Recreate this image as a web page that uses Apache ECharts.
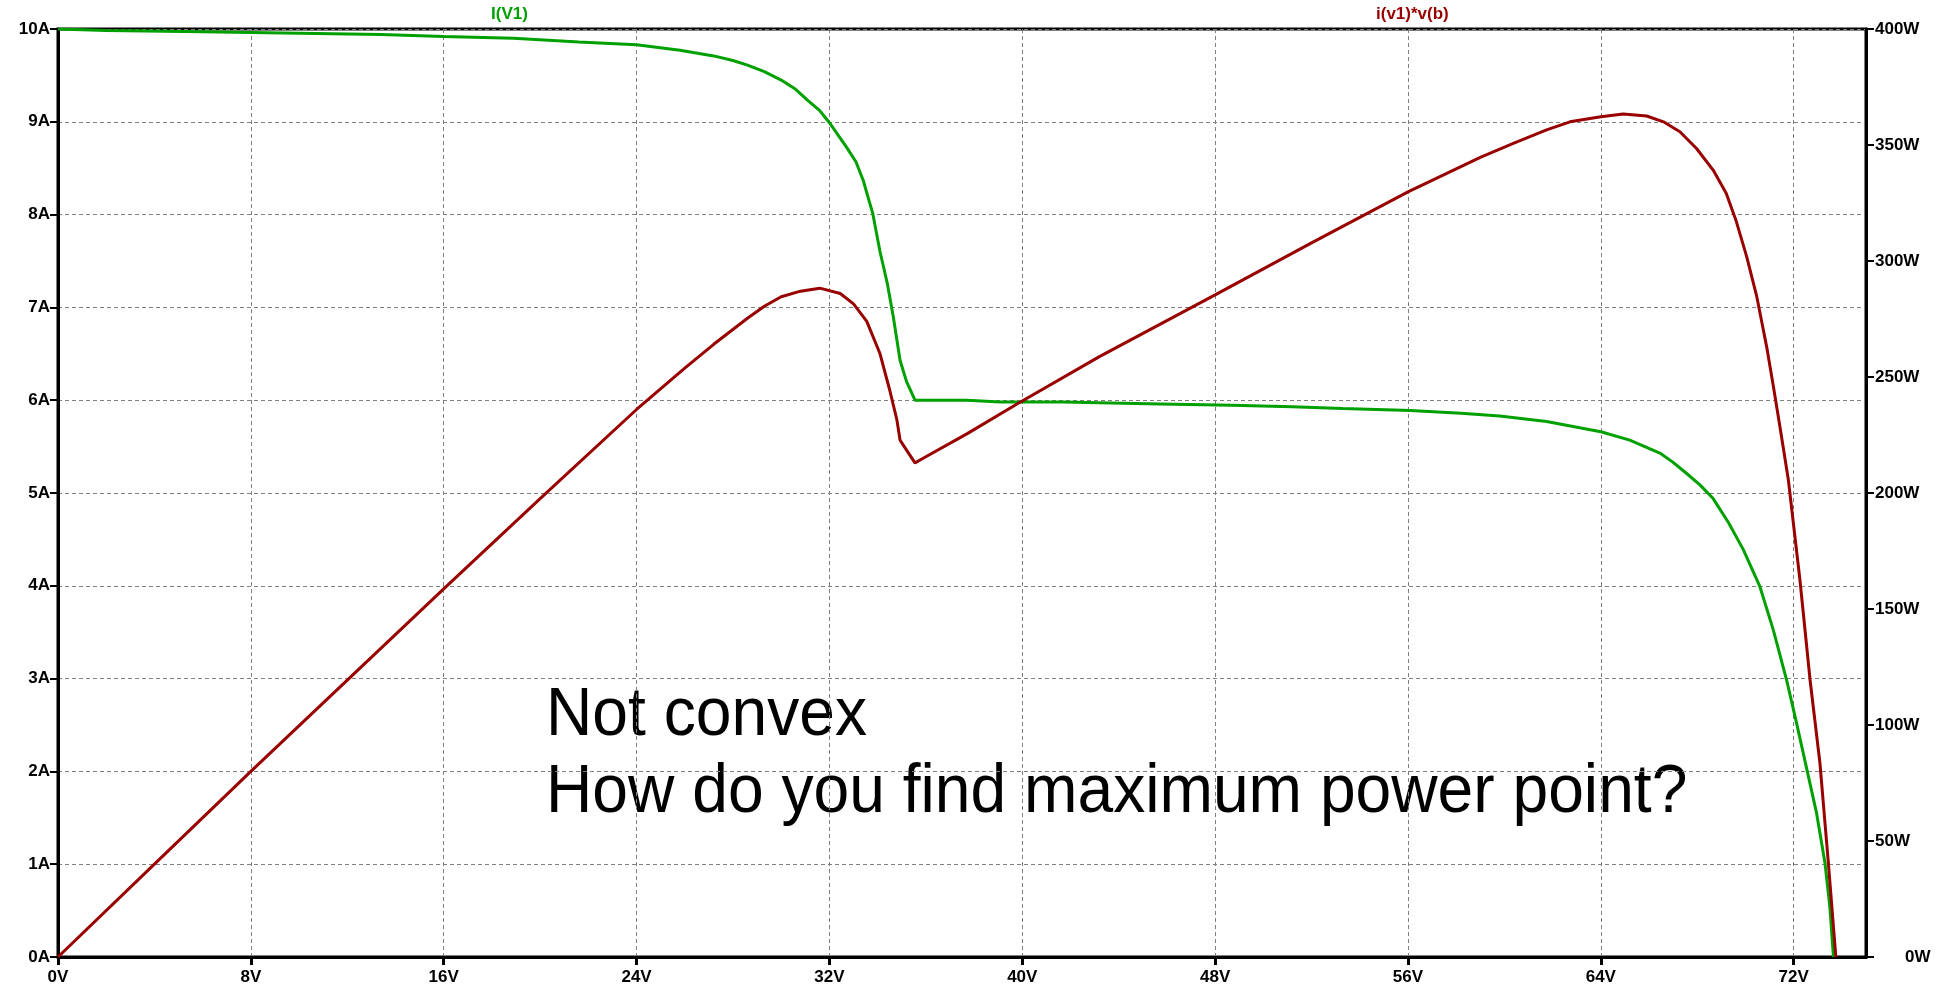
<!DOCTYPE html>
<html>
<head>
<meta charset="utf-8">
<title>PV curve</title>
<script src="https://cdn.jsdelivr.net/npm/echarts@6/dist/echarts.min.js"></script>
<style>
  html, body { margin: 0; padding: 0; background: #fff; }
  #chart { width: 1947px; height: 987px; }
</style>
</head>
<body>
<div id="chart"></div>
<script>
  // I(V1) vs sweep voltage (left axis, amps)
  const ivVolts = [0, 2, 6, 10, 13.4, 16, 18.9, 21.6, 24, 25.8, 27.2, 28.0, 28.6, 29.3, 30.0, 30.6, 31.1, 31.6, 32.0, 32.7, 33.1, 33.4, 33.8, 34.1, 34.4, 34.65, 34.93, 35.2, 35.55, 37.7, 39.1, 41.7, 45.7, 48.7, 51.2, 53.3, 56.1, 58.2, 59.8, 61.75, 64.0, 65.2, 66.45, 67.0, 67.56, 68.1, 68.66, 69.3, 69.91, 70.6, 71.16, 71.71, 72.12, 72.53, 72.95, 73.3, 73.5, 73.65];
  const ivAmps = [10.0, 9.985, 9.97, 9.955, 9.94, 9.92, 9.90, 9.86, 9.83, 9.77, 9.71, 9.66, 9.61, 9.54, 9.45, 9.35, 9.23, 9.12, 8.99, 8.73, 8.57, 8.37, 8.01, 7.60, 7.26, 6.90, 6.43, 6.20, 6.00, 6.00, 5.98, 5.98, 5.96, 5.945, 5.93, 5.91, 5.89, 5.86, 5.83, 5.77, 5.66, 5.57, 5.43, 5.33, 5.21, 5.09, 4.94, 4.68, 4.39, 3.99, 3.52, 2.98, 2.52, 2.04, 1.55, 1.01, 0.54, 0.0];

  // i(v1)*v(b) vs sweep voltage (right axis, watts)
  const pvVolts = [0, 4, 8, 16, 20, 24, 26, 27.2, 28.6, 29.3, 30.0, 30.8, 31.6, 32.45, 33.0, 33.55, 34.1, 34.5, 34.8, 34.93, 35.2, 35.55, 36.0, 37.7, 39.8, 43.2, 48, 52, 56, 59.0, 60.37, 61.75, 62.72, 64.0, 64.93, 65.9, 66.6, 67.28, 67.97, 68.66, 69.2, 69.6, 70.05, 70.47, 70.88, 71.16, 71.43, 71.78, 72.26, 72.68, 73.09, 73.44, 73.75];
  const pvWatts = [0, 40, 80, 158.7, 197.6, 236, 253.8, 264.1, 275.3, 280.5, 284.6, 287, 288.3, 286, 281.5, 274, 260, 244.4, 231.5, 222.8, 218.5, 213, 215.6, 225.5, 238.5, 258.8, 285.4, 307.8, 329.8, 344.7, 350.7, 356.5, 360, 362.2, 363.4, 362.5, 360, 355.7, 348.5, 339.2, 329.2, 317.7, 301.9, 284.6, 263, 245.8, 228.6, 205.6, 162.5, 119.4, 83.5, 40.4, 0];

  const traceNames = ["I(V1)", "i(v1)*v(b)"];
  const noteLines = ["Not convex", "How do you find maximum power point?"];

  const GREEN = "#00a000";
  const RED = "#990000";
  const labelFont = { fontFamily: "Liberation Sans", fontSize: 17, fontWeight: "bold", color: "#000" };
  const gridDash = { color: "#808080", width: 1, type: [4, 3] };

  const chart = echarts.init(document.getElementById("chart"), null, { renderer: "canvas" });

  chart.setOption({
    animation: false,
    backgroundColor: "#fff",
    grid: {
      left: 58, right: 81, top: 29, bottom: 30,
      show: true, borderColor: "#000", borderWidth: 3, backgroundColor: "transparent"
    },
    xAxis: {
      type: "value",
      min: 0, max: 75, interval: 8,
      axisLine: { show: true, onZero: false, lineStyle: { color: "#000", width: 3 } },
      axisTick: { show: true, length: 8, lineStyle: { color: "#000", width: 3 } },
      axisLabel: { ...labelFont, margin: 12, showMaxLabel: false, formatter: (v) => v + "V" },
      splitLine: { show: true, lineStyle: gridDash }
    },
    yAxis: [
      {
        type: "value",
        position: "left",
        min: 0, max: 10, interval: 1,
        axisLine: { show: true, onZero: false, lineStyle: { color: "#000", width: 3 } },
        axisTick: { show: true, length: 8, lineStyle: { color: "#000", width: 2 } },
        axisLabel: { ...labelFont, margin: 8, formatter: (v) => v + "A" },
        splitLine: { show: true, lineStyle: gridDash }
      },
      {
        type: "value",
        position: "right",
        min: 0, max: 400, interval: 50,
        axisLine: { show: true, onZero: false, lineStyle: { color: "#000", width: 3 } },
        axisTick: { show: true, length: 8, lineStyle: { color: "#000", width: 2 } },
        axisLabel: {
          ...labelFont, margin: 9,
          formatter: (v) => (v === 0 ? "{z|0W}" : v + "W"),
          rich: { z: { ...labelFont, padding: [0, 0, 0, 30] } }
        },
        splitLine: { show: false }
      }
    ],
    series: [
      {
        name: traceNames[0],
        type: "line",
        yAxisIndex: 0,
        data: ivVolts.map((v, i) => [v, ivAmps[i]]),
        showSymbol: false,
        smooth: false,
        lineStyle: { color: GREEN, width: 3 },
        itemStyle: { color: GREEN },
        z: 3
      },
      {
        name: traceNames[1],
        type: "line",
        yAxisIndex: 1,
        data: pvVolts.map((v, i) => [v, pvWatts[i]]),
        showSymbol: false,
        smooth: false,
        lineStyle: { color: RED, width: 3 },
        itemStyle: { color: RED },
        z: 4
      }
    ],
    graphic: [
      {
        type: "text", left: 491, top: 6,
        style: { text: traceNames[0], fill: GREEN, font: "bold 17px 'Liberation Sans'" }
      },
      {
        type: "text", left: 1376, top: 6,
        style: { text: traceNames[1], fill: RED, font: "bold 17px 'Liberation Sans'" }
      },
      {
        // slightly condensed, like the original annotation
        type: "text", left: 546, top: 677, scaleX: 0.93,
        style: { text: noteLines.join("\n"), fill: "#000", font: "69px 'Liberation Sans'", lineHeight: 77 }
      }
    ]
  });
</script>
</body>
</html>
